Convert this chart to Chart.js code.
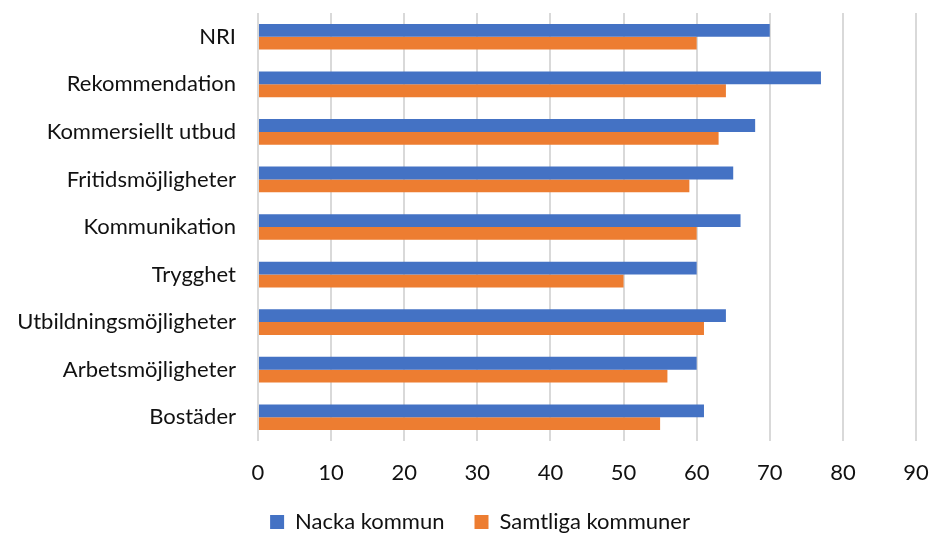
<!DOCTYPE html>
<html>
<head>
<meta charset="utf-8">
<script src="https://cdn.jsdelivr.net/npm/chart.js@4.4.0/dist/chart.umd.min.js"></script>
<style>
  html, body { margin: 0; padding: 0; background: #fff; overflow: hidden; }
  canvas { display: block; }
</style>
</head>
<body>
<canvas id="chart" width="931" height="533"></canvas>
<script>
const categories = [
  "NRI",
  "Rekommendation",
  "Kommersiellt utbud",
  "Fritidsmöjligheter",
  "Kommunikation",
  "Trygghet",
  "Utbildningsmöjligheter",
  "Arbetsmöjligheter",
  "Bostäder"
];
const nackaValues = [70, 77, 68, 65, 66, 60, 64, 60, 61];
const samtligaValues = [60, 64, 63, 59, 60, 50, 61, 56, 55];
const seriesNames = ["Nacka kommun", "Samtliga kommuner"];

const fontFamily = "Lato, 'Open Sans', sans-serif";
const textColor = "#111";

// nudge the legend a bit to the right, like the original
const legendShift = {
  id: "legendShift",
  afterLayout(chart) {
    const legend = chart.legend;
    if (!legend) return;
    legend.left += 22;
    legend.right += 22;
    (legend.legendHitBoxes || []).forEach(box => { box.left += 22; });
  }
};

new Chart(document.getElementById("chart"), {
  type: "bar",
  data: {
    labels: categories,
    datasets: [
      {
        label: seriesNames[0],
        data: nackaValues,
        backgroundColor: "#4472C4",
        borderWidth: 0,
        categoryPercentage: 0.54,
        barPercentage: 1.0
      },
      {
        label: seriesNames[1],
        data: samtligaValues,
        backgroundColor: "#ED7D31",
        borderWidth: 0,
        categoryPercentage: 0.54,
        barPercentage: 1.0
      }
    ]
  },
  options: {
    indexAxis: "y",
    responsive: false,
    animation: false,
    layout: {
      autoPadding: false,
      padding: { top: 13, right: 15, left: 0, bottom: -10 }
    },
    plugins: {
      tooltip: { enabled: false },
      legend: {
        position: "bottom",
        labels: {
          boxWidth: 14,
          boxHeight: 14,
          padding: 30,
          color: textColor,
          font: { family: fontFamily, size: 22 }
        }
      }
    },
    scales: {
      x: {
        min: 0,
        max: 90,
        ticks: {
          stepSize: 10,
          padding: 19,
          color: textColor,
          font: { family: fontFamily, size: 22 }
        },
        grid: {
          color: "#d9d9d9",
          lineWidth: 2,
          drawTicks: false
        },
        border: { display: false },
        afterFit: function (scale) {
          scale.height = 40;
          scale.paddingLeft = 0;
          scale.paddingRight = 0;
        }
      },
      y: {
        ticks: {
          padding: 22,
          color: textColor,
          font: { family: fontFamily, size: 22 }
        },
        grid: { display: false, drawTicks: false },
        border: { display: false },
        afterFit: function (scale) {
          scale.width = 258;
          scale.paddingTop = 0;
          scale.paddingBottom = 0;
        }
      }
    }
  },
  plugins: [legendShift]
});
</script>
</body>
</html>
